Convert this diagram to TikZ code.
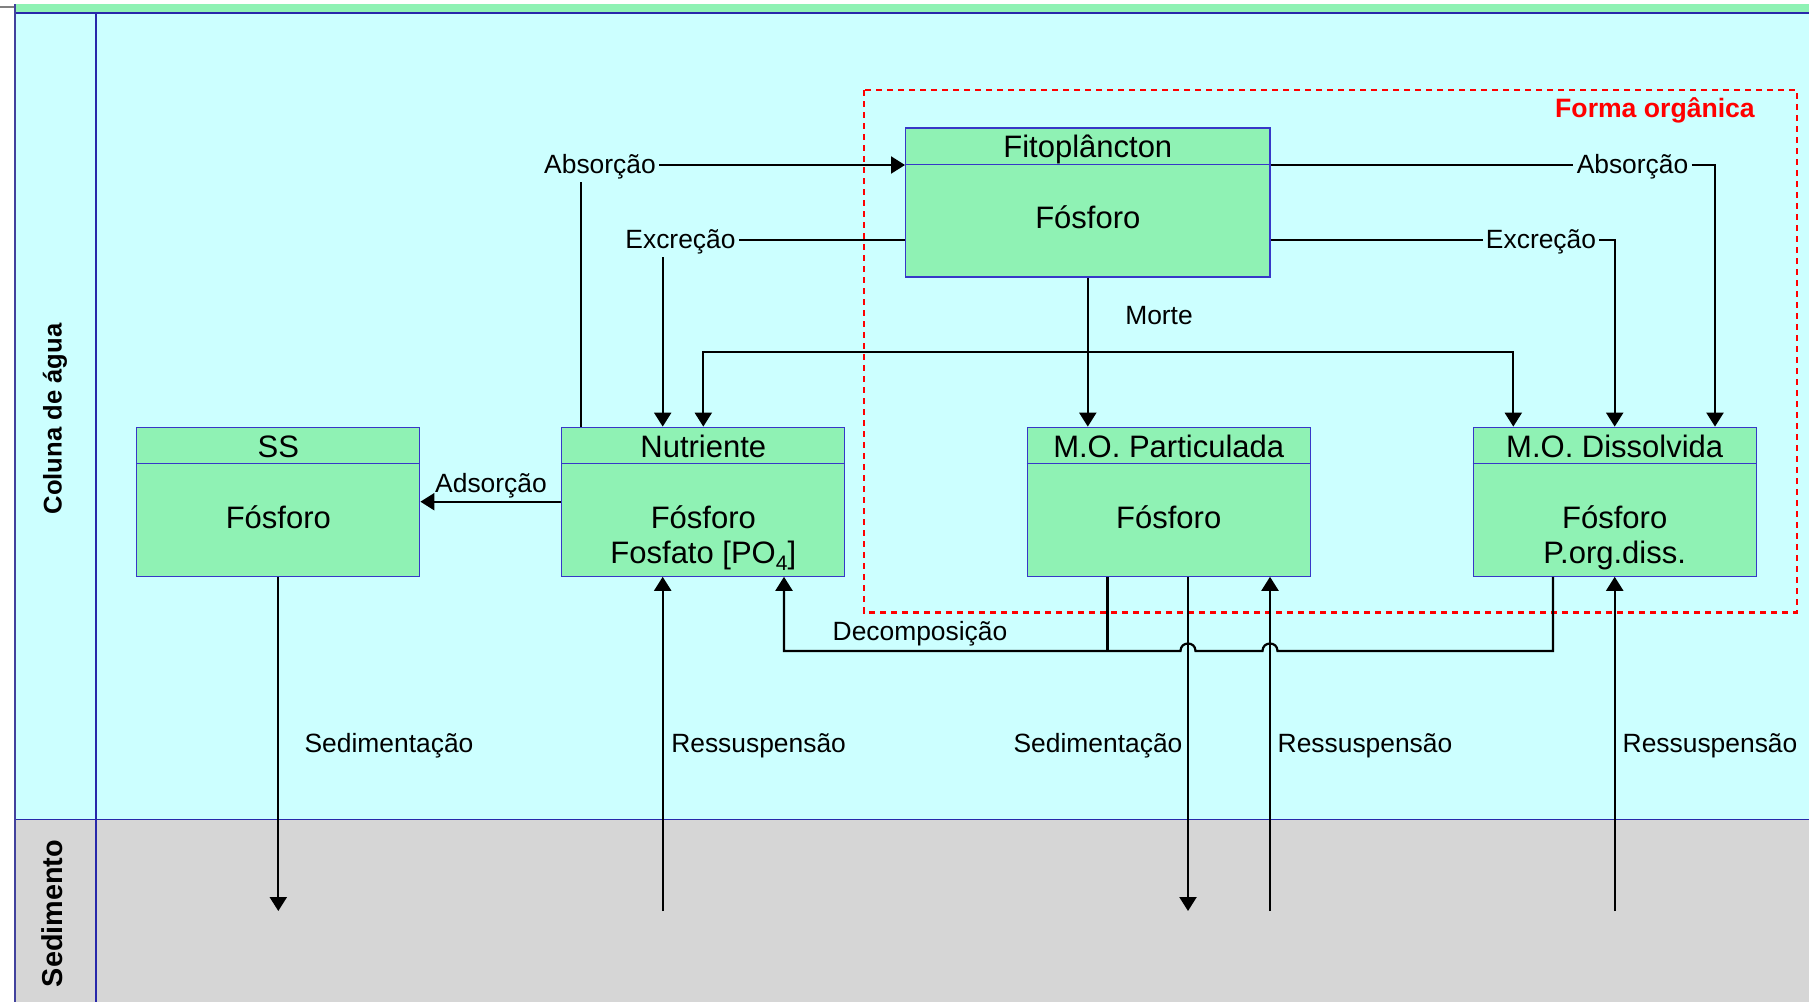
\documentclass[tikz,border=0pt]{standalone}
\usepackage{fontspec}
\setmainfont{Liberation Sans}
\usetikzlibrary{arrows.meta,calc}
\definecolor{bgcyan}{RGB}{204,255,255}
\definecolor{boxgreen}{RGB}{143,242,180}
\definecolor{boxblue}{RGB}{55,55,200}
\definecolor{sedgray}{RGB}{214,214,214}
\definecolor{lanebl}{RGB}{40,40,170}
\begin{document}
\begin{tikzpicture}[x=0.5pt,y=-0.5pt,
 box/.style={draw=boxblue,line width=0.6pt,fill=boxgreen,minimum width=141.5pt,minimum height=74.5pt,inner sep=0pt},
 wbox/.style={box,minimum width=182.2pt},
 hline/.style={draw=boxblue,line width=0.6pt},
 btxt/.style={font=\fontsize{15.5}{17.5}\selectfont,inner sep=0pt,anchor=base},
 lbl/.style={font=\fontsize{13.2}{15}\selectfont,inner sep=1.5pt,anchor=mid},
 flow/.style={line width=1.1pt,black},
 arr/.style={flow,-{Triangle[length=7pt,width=8.5pt]}},
 dbl/.style={flow,{Triangle[length=7pt,width=8.5pt]}-{Triangle[length=7pt,width=8.5pt]}},
 lane/.style={font=\bfseries\fontsize{12.8}{14}\selectfont,rotate=90,anchor=mid,inner sep=0pt}
]
\useasboundingbox (0,0) rectangle (1809,1002);
% backgrounds
\fill[white] (0,0) rectangle (1809,1002);
\fill[bgcyan] (15,13) rectangle (1809,819);
\fill[sedgray] (15,819) rectangle (1809,1002);
\fill[boxgreen] (15,4) rectangle (1809,13);
\draw[gray,line width=0.7pt] (0,7) -- (15,7);
\draw[lanebl,line width=0.7pt] (15,13) -- (1809,13);
\draw[lanebl,line width=0.5pt] (15,819) -- (1809,819);
\draw[lanebl!70!gray,line width=1pt] (15,4) -- (15,1002);
\draw[lanebl,line width=1pt] (96,13) -- (96,1002);
\node[lane] (col) at (56.4,419) {Coluna de água};
\node[lane,font=\bfseries\fontsize{14.4}{16}\selectfont] (sed) at (57.5,913.5) {Sedimento};

% organic form region
\draw[red,line width=1.2pt,dash pattern=on 3pt off 2.5pt] (864,90) rectangle (1796.7,612.6);
\node[font=\bfseries\fontsize{13.3}{15}\selectfont,text=red,anchor=base,inner sep=0pt] (forma) at (1655,117) {Forma orgânica};

% boxes
\node[box] (ss) at (278.3,501.7) {};
\node[box] (nut) at (703.3,501.7) {};
\node[box] (mop) at (1168.7,501.7) {};
\node[box] (mod) at (1614.7,501.7) {};
\node[wbox] (fito) at (1087.8,202.5) {};
\foreach \b in {ss,nut,mop,mod,fito}
  \draw[hline] ($(\b.north west)+(0,37)$) -- ($(\b.north east)+(0,37)$);

\node[btxt] (sst) at (278.3,457) {SS};
\node[btxt] (ssb) at (278.3,528) {Fósforo};
\node[btxt] (nutt) at (703.3,457) {Nutriente};
\node[btxt] (nutb1) at (703.3,528) {Fósforo};
\node[btxt] (nutb2) at (703.3,563) {Fosfato [PO\raisebox{-3.5pt}{\fontsize{10.5}{11}\selectfont 4}]};
\node[btxt] (mopt) at (1168.7,457) {M.O. Particulada};
\node[btxt] (mopb) at (1168.7,528) {Fósforo};
\node[btxt] (modt) at (1614.7,457) {M.O. Dissolvida};
\node[btxt] (modb1) at (1614.7,528) {Fósforo};
\node[btxt] (modb2) at (1614.7,563) {P.org.diss.};
\node[btxt] (fitot) at (1087.8,157) {Fitoplâncton};
\node[btxt] (fitob) at (1087.8,228) {Fósforo};

% helper coordinates
\coordinate (xa) at (581,0);
\coordinate (xb) at (662.7,0);
\coordinate (xd) at (1513.3,0);
\coordinate (xe) at (1715,0);
\coordinate (xg) at (784,0);
\coordinate (xh) at (1553,0);
\coordinate (xi) at (1107.5,0);
\coordinate (xj) at (1188,0);
\coordinate (xk) at (1270,0);
\coordinate (ya) at (0,165);
\coordinate (ye) at (0,240);
\coordinate (yl) at (0,352);
\coordinate (ybot) at (0,911);
\coordinate (ydec) at (0,651);

% labels
\node[lbl] (absL) at (600,168) {Absorção};
\node[lbl] (excL) at (680.5,243) {Excreção};
\node[lbl] (absR) at (1632.5,168) {Absorção};
\node[lbl] (excR) at (1541,243) {Excreção};
\node[lbl] (morte) at (1159,319) {Morte};
\node[lbl,anchor=base] (ads) at (491,492) {Adsorção};
\node[lbl] (dec) at (920,635) {Decomposição};
\node[lbl] (sed1) at (389,747) {Sedimentação};
\node[lbl] (res1) at (758.6,747) {Ressuspensão};
\node[lbl] (sed2) at (1098,747) {Sedimentação};
\node[lbl] (res2) at (1365,747) {Ressuspensão};
\node[lbl] (res3) at (1710,747) {Ressuspensão};

% connectors
\draw[flow] (nut.north -| xa) -- (absL.south -| xa);
\draw[arr] (absL.east |- ya) -- (fito.west |- ya);
\draw[flow] (fito.west |- ye) -- (excL.east |- ye);
\draw[arr] (excL.south -| xb) -- (nut.north -| xb);
\draw[arr] (fito.south) -- (fito.south |- mop.north);
\draw[dbl] (nut.north) -- (nut.north |- yl) -- (xd |- yl) -- (xd |- mod.north);
\draw[flow] (fito.east |- ya) -- (absR.west |- ya);
\draw[arr] (absR.east |- ya) -- (xe |- ya) -- (xe |- mod.north);
\draw[flow] (fito.east |- ye) -- (excR.west |- ye);
\draw[arr] (excR.east |- ye) -| (mod.north);
\draw[arr] (nut.west) -- (ss.east);
\draw[arr] (ss.south) -- (ss.south |- ybot);
\draw[arr] (xb |- ybot) -- (xb |- nut.south);
\draw[arr] (xh |- mod.south) -- (xh |- ydec) -- (1277.5,651)
  .. controls (1277.5,641) and (1262.5,641) .. (1262.5,651) -- (1195.5,651)
  .. controls (1195.5,641) and (1180.5,641) .. (1180.5,651) -- (xg |- ydec) -- (xg |- nut.south);
\draw[flow] (xi |- mop.south) -- (xi |- ydec);
\draw[arr] (xj |- mop.south) -- (xj |- ybot);
\draw[arr] (xk |- ybot) -- (xk |- mop.south);
\draw[arr] (mod.south |- ybot) -- (mod.south);
\end{tikzpicture}
\end{document}
